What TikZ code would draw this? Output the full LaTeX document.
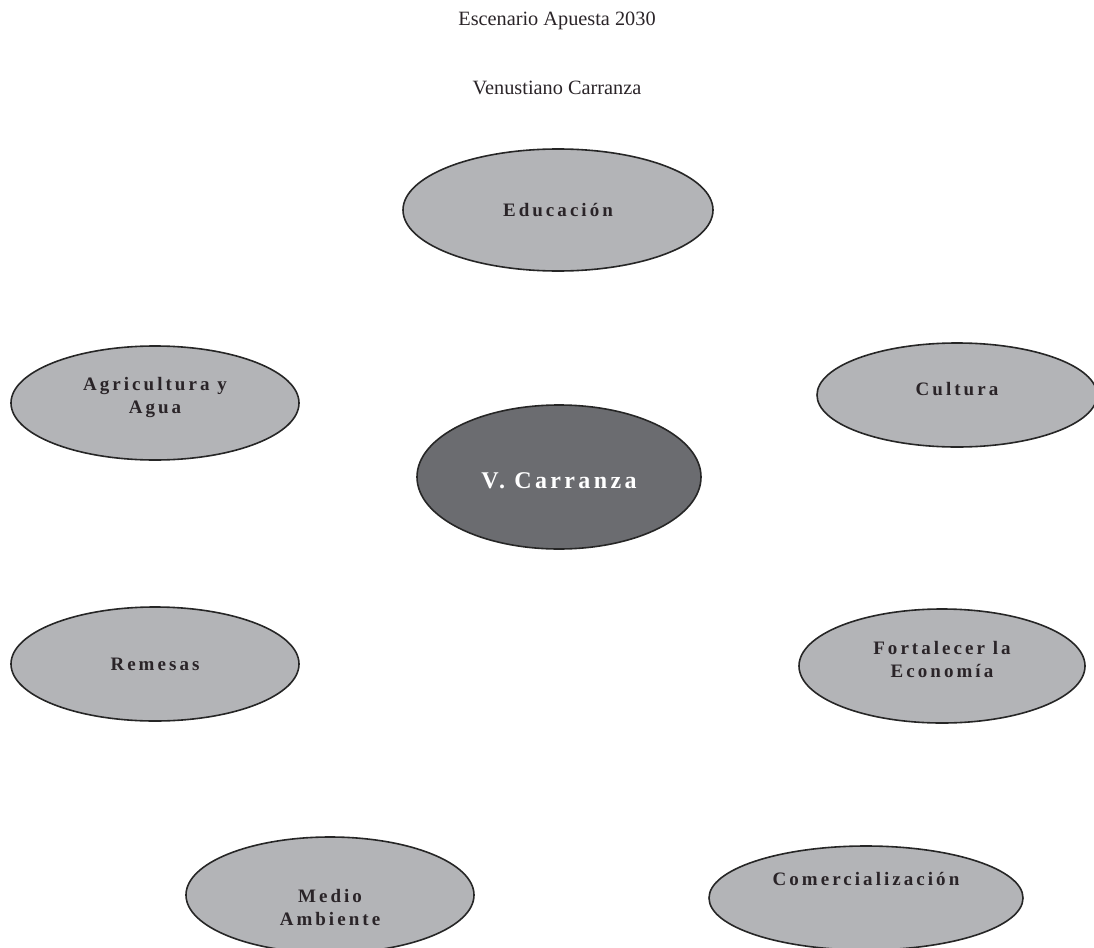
\documentclass[tikz,border=0pt]{standalone}
\usepackage{fontspec}
\setmainfont{Liberation Serif}
\newfontfamily\spacedfont[LetterSpace=16]{Liberation Serif}
\newfontfamily\centrefont[LetterSpace=14]{Liberation Serif}
\usetikzlibrary{shapes.geometric}
\definecolor{lightGrey}{RGB}{179,180,183}
\definecolor{darkGrey}{RGB}{107,108,112}
\definecolor{darkText}{RGB}{42,36,40}
\begin{document}
\begin{tikzpicture}
[x=1pt,y=-1pt,
  ellipseDecorate/.style={shape=ellipse,draw=black!85,line width=1.6pt,fill=lightGrey,inner sep=0pt},
  labelDecorate/.style={font=\spacedfont\bfseries\fontsize{19}{23}\selectfont,text=darkText,align=center},
  titleDecorate/.style={font=\fontsize{20.3}{22}\selectfont,text=darkText},
  scale=1]
\useasboundingbox (0,0) rectangle (1094,947);
%% titles
\node (title) at (557,21) [titleDecorate] {Escenario Apuesta 2030};
\node (subtitle) at (557,88) [titleDecorate] {Venustiano Carranza};
%% outer ellipses
\foreach \nodename/\x/\y/\rx/\ry in {
  edu/558/210/155/61, agri/155/403/144/57, cult/957/395/140/52,
  rem/155/664/144/57, fort/942/666/143/57, medio/330/895/144/58,
  comer/866/898/157/52}
{
  \node (\nodename) at (\x,\y) [ellipseDecorate,minimum width=2*\rx,minimum height=2*\ry] {};
}
%% centre
\node (carr) at (559,477) [ellipseDecorate,fill=darkGrey,minimum width=284,minimum height=144] {};
%% labels
\foreach \nodename/\dy/\txt in {
  edu/0/{Educación}, agri/-5/{Agricultura y\\Agua}, cult/-6/{Cultura},
  rem/0/{Remesas}, fort/-7/{Fortalecer la\\Economía}, medio/12/{Medio\\Ambiente},
  comer/-19/{Comercialización}}
{
  \node (\nodename-label) at ([yshift=-\dy pt]\nodename.center) [labelDecorate] {\txt};
}
\node (carr-label) at ([yshift=-4pt]carr.center) [labelDecorate,text=white,font=\centrefont\bfseries\fontsize{24}{26}\selectfont] {V. Carranza};
\end{tikzpicture}
\end{document}
